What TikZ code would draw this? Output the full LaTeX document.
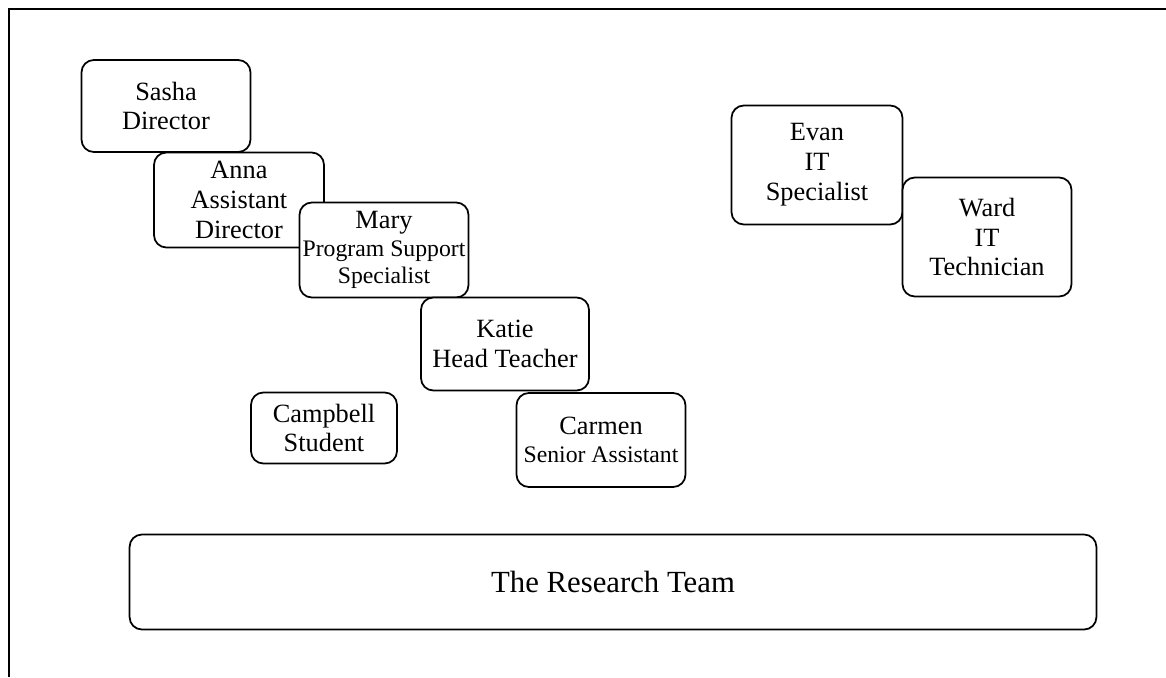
\documentclass[tikz,border=0pt]{standalone}
\usepackage{fontspec}
\setmainfont{Liberation Serif}
\tikzstyle{member}=[draw, rounded corners=7pt, fill=white, align=center, inner sep=0pt, line width=1pt, font=\fontsize{15}{17}\selectfont]
\tikzstyle{team}=[member, font=\fontsize{17.5}{20}\selectfont]
\newcommand{\smallrole}[1]{{\fontsize{13.5}{15.5}\selectfont #1}}

\begin{document}
\begin{tikzpicture}[x=0.02cm,y=-0.02cm]

  \useasboundingbox (0,0) rectangle (1166,677);
  \draw[line width=1pt] (1166,9) -- (9,9) -- (9,677);

  % staff, later boxes lie over earlier ones
  \foreach \name/\lbl/\x/\y/\w/\h in {
      sasha/{Sasha\\Director}/166/106/3.38/1.84,
      anna/{Anna\\Assistant\\Director}/239/200/3.40/1.90,
      mary/{Mary\\[-1.5pt]\smallrole{Program Support}\\[-1.5pt]\smallrole{Specialist}}/384/250/3.38/1.90,
      katie/{Katie\\Head Teacher}/505/344/3.36/1.86,
      carmen/{Carmen\\[-1pt]\smallrole{Senior Assistant}}/601/440/3.38/1.88,
      campbell/{Campbell\\Student}/324/428/2.92/1.42,
      evan/{Evan\\IT\\Specialist}/817/165/3.42/2.38,
      ward/{Ward\\IT\\Technician}/987/237/3.38/2.38}
    \node[member, minimum width=\w cm, minimum height=\h cm] (\name) at (\x,\y) {\lbl};

  \node[team, minimum width=19.34cm, minimum height=1.90cm] (team) at (613,582) {The Research Team};

\end{tikzpicture}
\end{document}
